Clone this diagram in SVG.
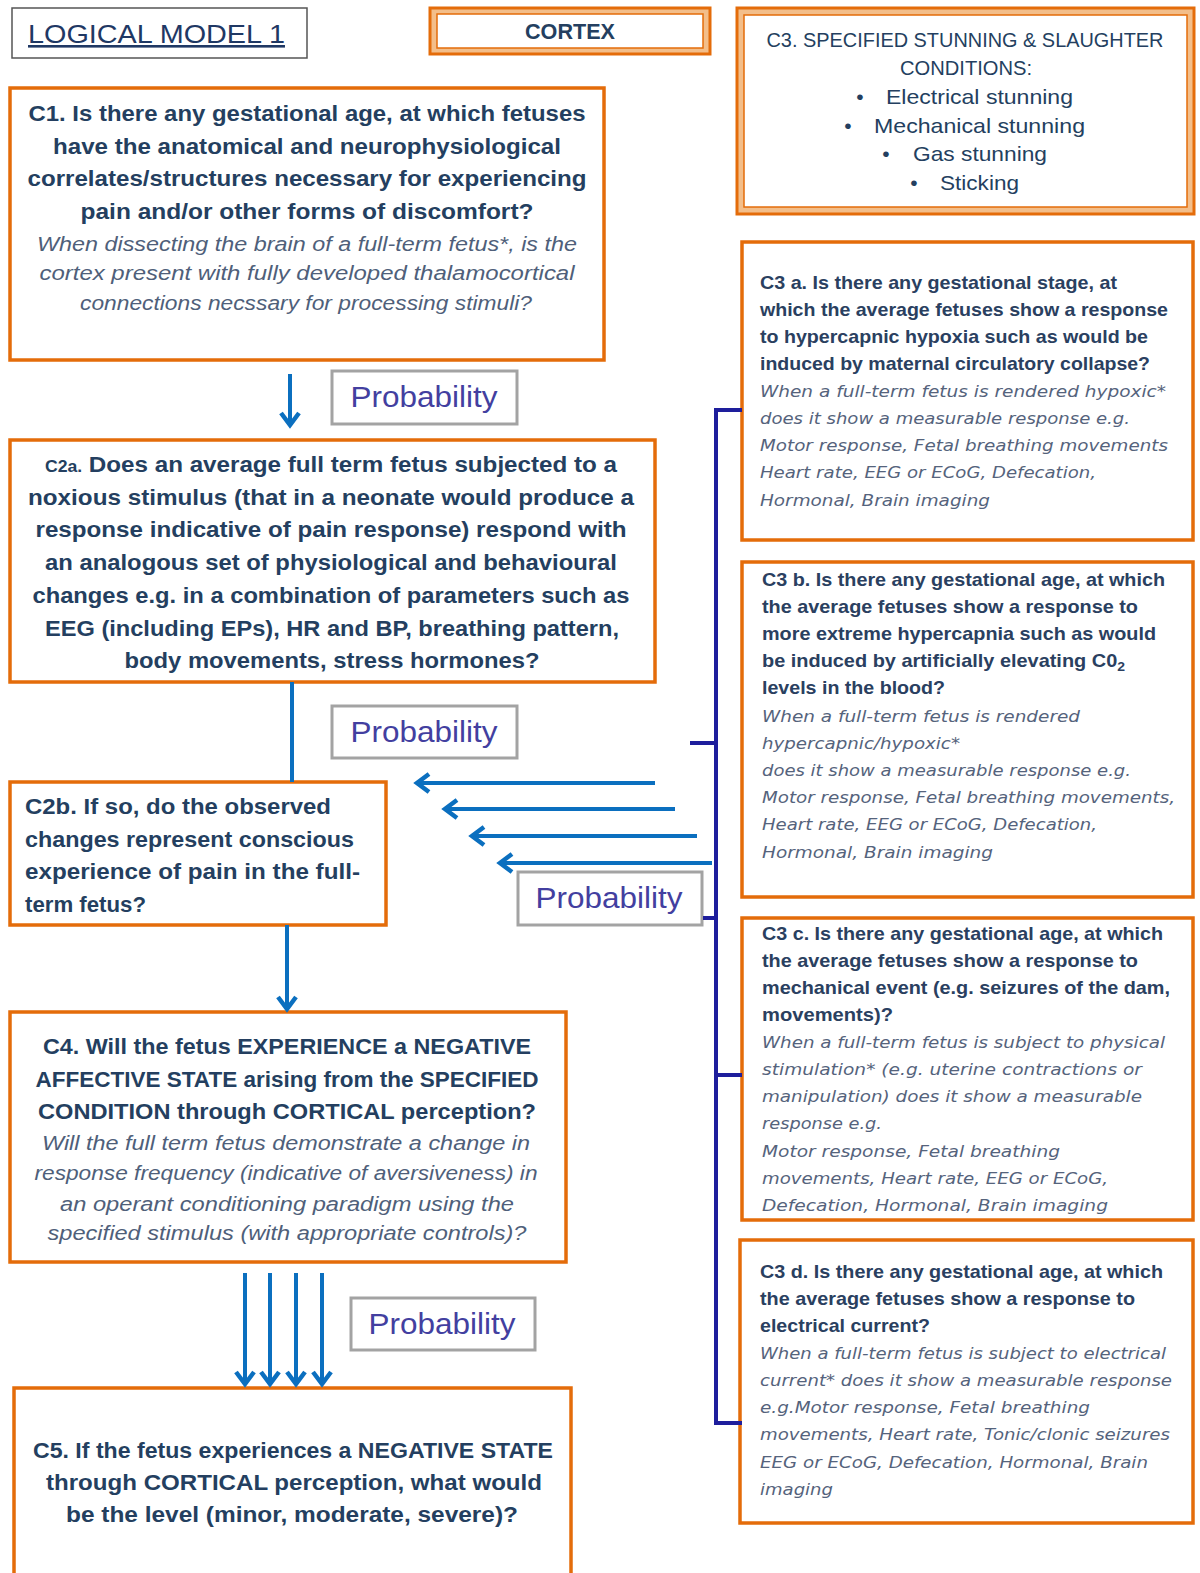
<svg xmlns="http://www.w3.org/2000/svg" width="1200" height="1573" viewBox="0 0 1200 1573">
<style>
.box{fill:#fff;stroke:#E46C0A;stroke-width:3.5}
.prob rect{fill:#fff;stroke:#A3A3A3;stroke-width:3}
.prob text{font-family:"Liberation Sans",Arial,sans-serif;font-size:29px;fill:#433FA0;text-anchor:middle}
.b{font-family:"Liberation Sans",Arial,sans-serif;font-weight:bold;font-size:22px;fill:#243F60}
.i{font-family:"Liberation Sans",Arial,sans-serif;font-style:italic;font-size:20px;fill:#4F5F7A}
.sb{font-family:"Liberation Sans",Arial,sans-serif;font-weight:bold;font-size:18.5px;fill:#2A4060}
.si{font-family:"DejaVu Sans",Verdana,sans-serif;font-style:italic;font-size:15.5px;fill:#55637C}
.h{font-family:"Liberation Sans",Arial,sans-serif;font-size:21px;fill:#243F60}
.c{text-anchor:middle}
.arr{stroke:#0B6FBF;stroke-width:4;fill:none}
.brk{stroke:#1E1E9C;stroke-width:4;fill:none}
</style>
<defs>
<marker id="ah" markerWidth="20" markerHeight="22" refX="15" refY="11" orient="auto" markerUnits="userSpaceOnUse">
<path d="M3,2 L15,11 L3,20" fill="none" stroke="#0B6FBF" stroke-width="4.5"/>
</marker>
</defs>
<rect width="1200" height="1573" fill="#fff"/>

<g id="title">
<rect x="12" y="8" width="295" height="50" fill="#fff" stroke="#555" stroke-width="1.5"/>
<text x="28" y="43" font-family="Liberation Sans,Arial,sans-serif" font-size="26" fill="#1F3864" text-decoration="underline" textLength="257" lengthAdjust="spacingAndGlyphs">LOGICAL MODEL 1</text>
</g>

<g id="cortex">
<rect x="430" y="8" width="280" height="46" fill="#F3BE8A" stroke="#E46C0A" stroke-width="3"/>
<rect x="437" y="14" width="266" height="34" fill="#fff" stroke="#E46C0A" stroke-width="1.5"/>
<text x="570" y="39" class="b c" font-size="20" textLength="90" lengthAdjust="spacingAndGlyphs">CORTEX</text>
</g>

<g id="c3">
<rect x="737" y="8" width="457" height="206" fill="#F3BE8A" stroke="#E46C0A" stroke-width="3"/>
<rect x="744" y="15" width="443" height="192" fill="#fff" stroke="#E46C0A" stroke-width="1.5"/>
<text x="965" y="47" class="h c" textLength="397" lengthAdjust="spacingAndGlyphs">C3. SPECIFIED STUNNING &amp; SLAUGHTER</text>
<text x="966" y="75" class="h c" textLength="132" lengthAdjust="spacingAndGlyphs">CONDITIONS:</text>
<text x="860" y="104" class="h c">•</text><text x="886" y="104" class="h" textLength="187" lengthAdjust="spacingAndGlyphs">Electrical stunning</text>
<text x="848" y="133" class="h c">•</text><text x="874" y="133" class="h" textLength="211" lengthAdjust="spacingAndGlyphs">Mechanical stunning</text>
<text x="886" y="161" class="h c">•</text><text x="913" y="161" class="h" textLength="134" lengthAdjust="spacingAndGlyphs">Gas stunning</text>
<text x="914" y="190" class="h c">•</text><text x="940" y="190" class="h" textLength="79" lengthAdjust="spacingAndGlyphs">Sticking</text>
</g>

<g id="c1">
<rect x="10" y="88" width="594" height="272" class="box"/>
<text x="307" y="121" class="b c" textLength="557" lengthAdjust="spacingAndGlyphs">C1.  Is there any gestational age, at which fetuses</text>
<text x="307" y="154" class="b c" textLength="508" lengthAdjust="spacingAndGlyphs">have the anatomical and neurophysiological</text>
<text x="307" y="186" class="b c" textLength="559" lengthAdjust="spacingAndGlyphs">correlates/structures  necessary for experiencing</text>
<text x="307" y="219" class="b c" textLength="453" lengthAdjust="spacingAndGlyphs">pain and/or other forms of discomfort?</text>
<text x="307" y="251" class="i c" textLength="540" lengthAdjust="spacingAndGlyphs">When dissecting the brain of a full-term fetus*, is the</text>
<text x="307" y="280" class="i c" textLength="535" lengthAdjust="spacingAndGlyphs">cortex present with fully developed  thalamocortical</text>
<text x="306" y="310" class="i c" textLength="452" lengthAdjust="spacingAndGlyphs">connections necssary for processing stimuli?</text>
</g>

<g id="c2a">
<rect x="10" y="440" width="645" height="242" class="box"/>
<text x="331" y="472" class="b c" textLength="572" lengthAdjust="spacingAndGlyphs"><tspan font-size="16">C2a.</tspan> Does an average full term fetus subjected to a</text>
<text x="331" y="505" class="b c" textLength="606" lengthAdjust="spacingAndGlyphs">noxious stimulus (that in a neonate would produce a</text>
<text x="331" y="537" class="b c" textLength="591" lengthAdjust="spacingAndGlyphs">response indicative of pain response) respond with</text>
<text x="331" y="570" class="b c" textLength="572" lengthAdjust="spacingAndGlyphs">an analogous set of physiological and behavioural</text>
<text x="331" y="603" class="b c" textLength="597" lengthAdjust="spacingAndGlyphs">changes e.g. in a combination of parameters such as</text>
<text x="332" y="636" class="b c" textLength="574" lengthAdjust="spacingAndGlyphs">EEG (including EPs), HR and BP, breathing pattern,</text>
<text x="332" y="668" class="b c" textLength="415" lengthAdjust="spacingAndGlyphs">body movements, stress hormones?</text>
</g>

<g id="c2b">
<rect x="10" y="782" width="376" height="143" class="box"/>
<text x="25" y="814" class="b" textLength="306" lengthAdjust="spacingAndGlyphs">C2b. If so, do the observed</text>
<text x="25" y="847" class="b" textLength="329" lengthAdjust="spacingAndGlyphs">changes represent conscious</text>
<text x="25" y="879" class="b" textLength="335" lengthAdjust="spacingAndGlyphs">experience of pain in the full-</text>
<text x="25" y="912" class="b" textLength="121" lengthAdjust="spacingAndGlyphs">term fetus?</text>
</g>

<g id="c4">
<rect x="10" y="1012" width="556" height="250" class="box"/>
<text x="287" y="1054" class="b c" textLength="488" lengthAdjust="spacingAndGlyphs">C4.  Will the fetus EXPERIENCE a NEGATIVE</text>
<text x="287" y="1087" class="b c" textLength="503" lengthAdjust="spacingAndGlyphs">AFFECTIVE STATE arising from the SPECIFIED</text>
<text x="287" y="1119" class="b c" textLength="498" lengthAdjust="spacingAndGlyphs">CONDITION through CORTICAL perception?</text>
<text x="286" y="1150" class="i c" textLength="488" lengthAdjust="spacingAndGlyphs">Will the full term fetus demonstrate a change in</text>
<text x="286" y="1180" class="i c" textLength="503" lengthAdjust="spacingAndGlyphs">response frequency (indicative of aversiveness) in</text>
<text x="287" y="1211" class="i c" textLength="454" lengthAdjust="spacingAndGlyphs">an operant conditioning paradigm using the</text>
<text x="287" y="1240" class="i c" textLength="479" lengthAdjust="spacingAndGlyphs">specified stimulus (with appropriate controls)?</text>
</g>

<g id="c5">
<rect x="14" y="1388" width="557" height="200" class="box"/>
<text x="293" y="1458" class="b c" textLength="520" lengthAdjust="spacingAndGlyphs">C5.  If the fetus experiences a NEGATIVE STATE</text>
<text x="294" y="1490" class="b c" textLength="496" lengthAdjust="spacingAndGlyphs">through CORTICAL perception, what would</text>
<text x="292" y="1522" class="b c" textLength="452" lengthAdjust="spacingAndGlyphs">be the level (minor, moderate, severe)?</text>
</g>

<g id="c3a">
<rect x="742" y="242" width="451" height="298" class="box"/>
<text x="760" y="289" class="sb" textLength="357" lengthAdjust="spacingAndGlyphs">C3 a. Is there any gestational  stage, at</text>
<text x="760" y="316" class="sb" textLength="408" lengthAdjust="spacingAndGlyphs">which the average fetuses show a response</text>
<text x="760" y="343" class="sb" textLength="388" lengthAdjust="spacingAndGlyphs">to hypercapnic hypoxia  such as would be</text>
<text x="760" y="370" class="sb" textLength="390" lengthAdjust="spacingAndGlyphs">induced by maternal circulatory  collapse?</text>
<text x="760" y="397" class="si" textLength="406" lengthAdjust="spacingAndGlyphs">When a  full-term fetus is rendered  hypoxic*</text>
<text x="760" y="424" class="si" textLength="370" lengthAdjust="spacingAndGlyphs">does it show a measurable response e.g.</text>
<text x="760" y="451" class="si" textLength="408" lengthAdjust="spacingAndGlyphs">Motor response, Fetal breathing movements</text>
<text x="760" y="478" class="si" textLength="336" lengthAdjust="spacingAndGlyphs">Heart rate,  EEG or ECoG, Defecation,</text>
<text x="760" y="506" class="si" textLength="230" lengthAdjust="spacingAndGlyphs">Hormonal, Brain imaging</text>
</g>

<g id="c3b">
<rect x="742" y="562" width="451" height="335" class="box"/>
<text x="762" y="586" class="sb" textLength="403" lengthAdjust="spacingAndGlyphs">C3 b. Is there any gestational  age, at which</text>
<text x="762" y="613" class="sb" textLength="376" lengthAdjust="spacingAndGlyphs">the average fetuses show a response to</text>
<text x="762" y="640" class="sb" textLength="394" lengthAdjust="spacingAndGlyphs">more extreme hypercapnia  such as would</text>
<text x="762" y="667" class="sb" textLength="363" lengthAdjust="spacingAndGlyphs">be induced by artificially  elevating C0<tspan font-size="13" dy="4">2</tspan></text>
<text x="762" y="694" class="sb" textLength="183" lengthAdjust="spacingAndGlyphs">levels in the blood?</text>
<text x="762" y="722" class="si" textLength="318" lengthAdjust="spacingAndGlyphs">When a  full-term fetus is rendered</text>
<text x="762" y="749" class="si" textLength="198" lengthAdjust="spacingAndGlyphs">hypercapnic/hypoxic*</text>
<text x="762" y="776" class="si" textLength="369" lengthAdjust="spacingAndGlyphs">does it show a measurable response e.g.</text>
<text x="762" y="803" class="si" textLength="413" lengthAdjust="spacingAndGlyphs">Motor response, Fetal breathing movements,</text>
<text x="762" y="830" class="si" textLength="335" lengthAdjust="spacingAndGlyphs">Heart rate,  EEG or ECoG, Defecation,</text>
<text x="762" y="858" class="si" textLength="231" lengthAdjust="spacingAndGlyphs">Hormonal, Brain imaging</text>
</g>

<g id="c3c">
<rect x="742" y="918" width="451" height="302" class="box"/>
<text x="762" y="940" class="sb" textLength="401" lengthAdjust="spacingAndGlyphs">C3 c. Is there any gestational  age, at which</text>
<text x="762" y="967" class="sb" textLength="376" lengthAdjust="spacingAndGlyphs">the average fetuses show a response to</text>
<text x="762" y="994" class="sb" textLength="408" lengthAdjust="spacingAndGlyphs">mechanical  event (e.g. seizures of the dam,</text>
<text x="762" y="1021" class="sb" textLength="131" lengthAdjust="spacingAndGlyphs">movements)?</text>
<text x="762" y="1048" class="si" textLength="403" lengthAdjust="spacingAndGlyphs">When a full-term fetus is subject  to physical</text>
<text x="762" y="1075" class="si" textLength="380" lengthAdjust="spacingAndGlyphs">stimulation* (e.g. uterine  contractions  or</text>
<text x="762" y="1102" class="si" textLength="380" lengthAdjust="spacingAndGlyphs">manipulation) does it show a measurable</text>
<text x="762" y="1129" class="si" textLength="120" lengthAdjust="spacingAndGlyphs">response e.g.</text>
<text x="762" y="1157" class="si" textLength="298" lengthAdjust="spacingAndGlyphs">Motor response, Fetal breathing</text>
<text x="762" y="1184" class="si" textLength="346" lengthAdjust="spacingAndGlyphs">movements,  Heart rate, EEG  or ECoG,</text>
<text x="762" y="1211" class="si" textLength="346" lengthAdjust="spacingAndGlyphs">Defecation,  Hormonal, Brain imaging</text>
</g>

<g id="c3d">
<rect x="740" y="1240" width="453" height="283" class="box"/>
<text x="760" y="1278" class="sb" textLength="403" lengthAdjust="spacingAndGlyphs">C3 d. Is there any gestational  age, at which</text>
<text x="760" y="1305" class="sb" textLength="375" lengthAdjust="spacingAndGlyphs">the average fetuses show a response to</text>
<text x="760" y="1332" class="sb" textLength="170" lengthAdjust="spacingAndGlyphs">electrical current?</text>
<text x="760" y="1359" class="si" textLength="406" lengthAdjust="spacingAndGlyphs">When a full-term fetus is subject  to electrical</text>
<text x="760" y="1386" class="si" textLength="412" lengthAdjust="spacingAndGlyphs">current*  does it show a measurable  response</text>
<text x="760" y="1413" class="si" textLength="330" lengthAdjust="spacingAndGlyphs">e.g.Motor  response, Fetal breathing</text>
<text x="760" y="1440" class="si" textLength="410" lengthAdjust="spacingAndGlyphs">movements, Heart  rate, Tonic/clonic  seizures</text>
<text x="760" y="1468" class="si" textLength="388" lengthAdjust="spacingAndGlyphs">EEG or ECoG, Defecation, Hormonal, Brain</text>
<text x="760" y="1495" class="si" textLength="73" lengthAdjust="spacingAndGlyphs">imaging</text>
</g>

<g id="p1" class="prob"><rect x="332" y="371" width="185" height="53"/><text x="424" y="407" textLength="147" lengthAdjust="spacingAndGlyphs">Probability</text></g>
<g id="p2" class="prob"><rect x="332" y="706" width="185" height="52"/><text x="424" y="742" textLength="147" lengthAdjust="spacingAndGlyphs">Probability</text></g>
<g id="p3" class="prob"><rect x="518" y="872" width="184" height="53"/><text x="609" y="908" textLength="147" lengthAdjust="spacingAndGlyphs">Probability</text></g>
<g id="p4" class="prob"><rect x="351" y="1298" width="184" height="52"/><text x="442" y="1334" textLength="147" lengthAdjust="spacingAndGlyphs">Probability</text></g>

<g id="connectors">
<line x1="290" y1="374" x2="290" y2="425" class="arr" marker-end="url(#ah)"/>
<line x1="292" y1="682" x2="292" y2="782" class="arr"/>
<line x1="287" y1="925" x2="287" y2="1009" class="arr" marker-end="url(#ah)"/>
<line x1="245" y1="1273" x2="245" y2="1384" class="arr" marker-end="url(#ah)"/>
<line x1="270" y1="1273" x2="270" y2="1384" class="arr" marker-end="url(#ah)"/>
<line x1="296" y1="1273" x2="296" y2="1384" class="arr" marker-end="url(#ah)"/>
<line x1="322" y1="1273" x2="322" y2="1384" class="arr" marker-end="url(#ah)"/>
<line x1="655" y1="783" x2="417" y2="783" class="arr" marker-end="url(#ah)"/>
<line x1="675" y1="809" x2="445" y2="809" class="arr" marker-end="url(#ah)"/>
<line x1="697" y1="836" x2="472" y2="836" class="arr" marker-end="url(#ah)"/>
<line x1="712" y1="863" x2="500" y2="863" class="arr" marker-end="url(#ah)"/>
<path class="brk" d="M742,410 H716 V1423 H742"/>
<line x1="690" y1="743" x2="716" y2="743" class="brk"/>
<line x1="703" y1="918" x2="716" y2="918" class="brk"/>
<line x1="716" y1="1075" x2="742" y2="1075" class="brk"/>
</g>
</svg>
